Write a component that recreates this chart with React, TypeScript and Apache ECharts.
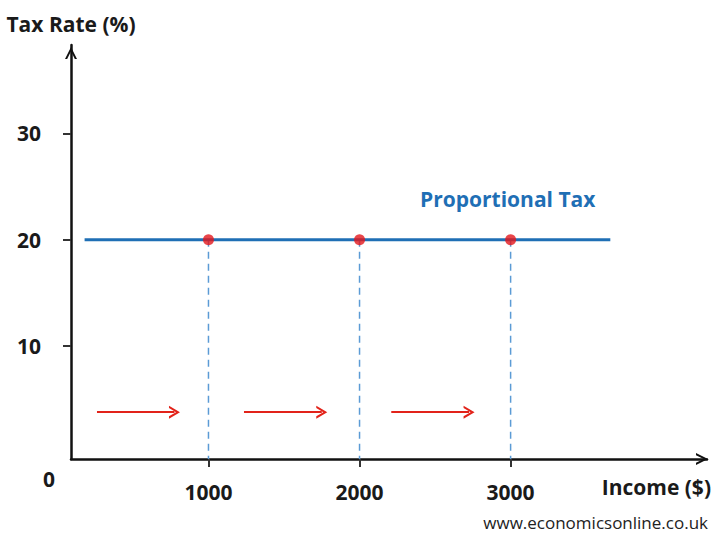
import * as echarts from "echarts";
import { useEffect, useRef } from "react";

// axis ticks and labels
const yTicks = [10, 20, 30];
const xTicks = [1000, 2000, 3000];

// proportional tax: constant 20% rate
const taxRate = 20;
const lineStart = 180;
const lineEnd = 3660;
const incomePoints = [1000, 2000, 3000];

// red "income rises" arrows
const arrowStarts = [262, 1235, 2210];
const arrowEnds = [775, 1750, 2725];
const arrowLevel = 3.8;

const xMin = 90;
const xMax = 4300;
const yMin = -0.6;
const yMax = 38.3;

const chevron = "path://M0,10 L5,0 L10,10 L8.2,10 L5,3.6 L1.8,10 Z";
const font = "'Open Sans', 'Noto Sans', sans-serif";

export default function App() {
  const chartRef = useRef<HTMLDivElement | null>(null);

  useEffect(() => {
    document.body.style.margin = "0";
    if (!chartRef.current) return;
    const chart = echarts.init(chartRef.current, null, { renderer: "svg" });

    chart.setOption({
      animation: false,
      backgroundColor: "#fff",
      grid: { left: 71, right: 13, top: 45, bottom: 79 },
      xAxis: {
        type: "value",
        min: xMin,
        max: xMax,
        name: "Income ($)",
        nameLocation: "end",
        nameGap: 4,
        nameTextStyle: {
          color: "#1a1a1a",
          fontFamily: font,
          fontWeight: "bold",
          fontSize: 21,
          align: "right",
          verticalAlign: "top",
          padding: [17, 0, 0, 0],
        },
        axisLine: {
          onZero: false,
          symbol: ["none", chevron],
          symbolSize: [14, 12],
          symbolOffset: [0, -5],
          lineStyle: { color: "#111", width: 2.5 },
        },
        axisTick: { customValues: xTicks, length: 8, lineStyle: { color: "#333", width: 2 } },
        axisLabel: {
          customValues: xTicks,
          formatter: (v: number) => String(v),
          margin: 22,
          color: "#1a1a1a",
          fontFamily: font,
          fontWeight: "bold",
          fontSize: 21,
        },
        splitLine: { show: false },
      },
      yAxis: {
        type: "value",
        min: yMin,
        max: yMax,
        name: "Tax Rate (%)",
        nameLocation: "end",
        nameGap: 11,
        nameTextStyle: {
          color: "#1a1a1a",
          fontFamily: font,
          fontWeight: "bold",
          fontSize: 21,
        },
        axisLine: {
          onZero: false,
          symbol: ["none", chevron],
          symbolSize: [14, 12],
          symbolOffset: [0, -8],
          lineStyle: { color: "#111", width: 2.5 },
        },
        axisTick: { customValues: yTicks, length: 8, lineStyle: { color: "#333", width: 2 } },
        axisLabel: {
          customValues: yTicks,
          margin: 30,
          color: "#1a1a1a",
          fontFamily: font,
          fontWeight: "bold",
          fontSize: 21,
        },
        splitLine: { show: false },
      },
      series: [
        ...incomePoints.map((x) => ({
          type: "line",
          data: [
            [x, taxRate],
            [x, yMin],
          ],
          showSymbol: false,
          silent: true,
          lineStyle: { color: "#5b9bd5", width: 1.5, type: [7, 5] },
          z: 1,
        })),
        {
          type: "line",
          data: [
            [lineStart, taxRate],
            [lineEnd, taxRate],
          ],
          showSymbol: false,
          lineStyle: { color: "#1f6fb5", width: 3 },
          z: 2,
          markLine: {
            silent: true,
            symbol: ["none", chevron],
            symbolSize: [13, 11],
            label: { show: false },
            lineStyle: { color: "#e2231a", width: 2, type: "solid" },
            data: arrowStarts.map((s, i) => [
              { coord: [s, arrowLevel] },
              { coord: [arrowEnds[i], arrowLevel] },
            ]),
          },
        },
        {
          type: "scatter",
          data: incomePoints.map((x) => [x, taxRate]),
          symbolSize: 11,
          itemStyle: { color: "#e3161b" },
          z: 3,
        },
      ],
      graphic: [
        {
          type: "text",
          x: 420,
          y: 199,
          style: {
            text: "Proportional Tax",
            fill: "#1f6fb5",
            font: `bold 21px ${font}`,
            verticalAlign: "middle",
          },
        },
        {
          type: "text",
          x: 43,
          y: 479,
          style: { text: "0", fill: "#1a1a1a", font: `bold 21px ${font}`, verticalAlign: "middle" },
        },
        {
          type: "text",
          x: 708,
          y: 522,
          style: {
            text: "www.economicsonline.co.uk",
            fill: "#222",
            font: `17px ${font}`,
            align: "right",
            verticalAlign: "middle",
          },
        },
      ],
    });

    return () => {
      chart.dispose();
    };
  }, []);

  return <div ref={chartRef} style={{ width: 720, height: 538 }} />;
}
